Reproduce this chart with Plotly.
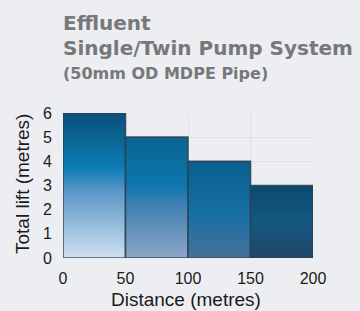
import plotly.graph_objects as go

# Data
distance_edges = [0, 50, 100, 150, 200]
total_lift = [6, 5, 4, 3]
x_ticks = [0, 50, 100, 150, 200]
y_ticks = [0, 1, 2, 3, 4, 5, 6]
title_lines = ["Effluent", "Single/Twin Pump System", "(50mm OD MDPE Pipe)"]
x_title = "Distance (metres)"
y_title = "Total lift (metres)"

# Styling (colour stops per bar: bottom, middle, top)
bar_gradients = [
    [[0, "#cfe0f3"], [0.45, "#5f98c8"], [0.62, "#0b7db5"], [1, "#0a4f78"]],
    [[0, "#8ea6c6"], [0.45, "#3f80b4"], [0.6, "#0c77ac"], [1, "#0a6494"]],
    [[0, "#48709a"], [0.45, "#1870a6"], [1, "#0a5f8c"]],
    [[0, "#22466a"], [0.5, "#13587f"], [1, "#0b4a6e"]],
]
bg = "#eceef1"
font_family = "Liberation Sans, Arial, sans-serif"
title_family = "DejaVu Sans, sans-serif"

L, R, T, B, W, H = 63, 47, 113, 53, 360, 311
PW, PH = W - L - R, H - T - B


def px_x(px):
    return (px - L) / PW


def px_y(py):
    return (H - B - py) / PH


fig = go.Figure()
for i, h in enumerate(total_lift):
    x0, x1 = distance_edges[i], distance_edges[i + 1]
    fig.add_trace(go.Scatter(
        x=[x0, x0, x1, x1, x0],
        y=[0, h, h, 0, 0],
        mode="lines",
        fill="toself",
        fillgradient=dict(type="vertical", colorscale=bar_gradients[i]),
        line=dict(color="rgba(45,65,82,0.85)", width=1.6),
        hoverinfo="skip",
        showlegend=False,
    ))

y_pos = [22.8, 48.2, 74]
sizes = [20, 20, 16]
for txt, py, sz in zip(title_lines, y_pos, sizes):
    fig.add_annotation(
        text="<b>%s</b>" % txt,
        xref="paper", yref="paper",
        x=px_x(61), y=px_y(py),
        xanchor="left", yanchor="middle",
        showarrow=False,
        font=dict(family=title_family, size=sz, color="#77787a"),
    )

fig.add_annotation(
    text=x_title, xref="paper", yref="paper",
    x=px_x(186), y=px_y(299), xanchor="center", yanchor="middle",
    showarrow=False, font=dict(family=font_family, size=19, color="#1a1a1a"),
)
fig.add_annotation(
    text=y_title, xref="paper", yref="paper", textangle=-90,
    x=px_x(22), y=px_y(184), xanchor="center", yanchor="middle",
    showarrow=False, font=dict(family=font_family, size=19, color="#1a1a1a"),
)

fig.update_layout(
    width=W, height=H,
    margin=dict(l=L, r=R, t=T, b=B),
    paper_bgcolor=bg, plot_bgcolor=bg,
    font=dict(family=font_family, color="#1a1a1a"),
    xaxis=dict(
        range=[0, 200], tickvals=x_ticks, showgrid=True,
        gridcolor="#dde2ea", gridwidth=1, zeroline=False, showline=False,
        tickfont=dict(size=16), ticklabelstandoff=9,
    ),
    yaxis=dict(
        range=[0, 6], tickvals=y_ticks, showgrid=True,
        gridcolor="#dde2ea", gridwidth=1, zeroline=False, showline=False,
        tickfont=dict(size=16), ticklabelstandoff=10,
    ),
)

fig.write_html(
    "out.html",
    config={"displayModeBar": False},
    post_script="document.body.style.margin='0';document.body.style.background='#eceef1';",
)
